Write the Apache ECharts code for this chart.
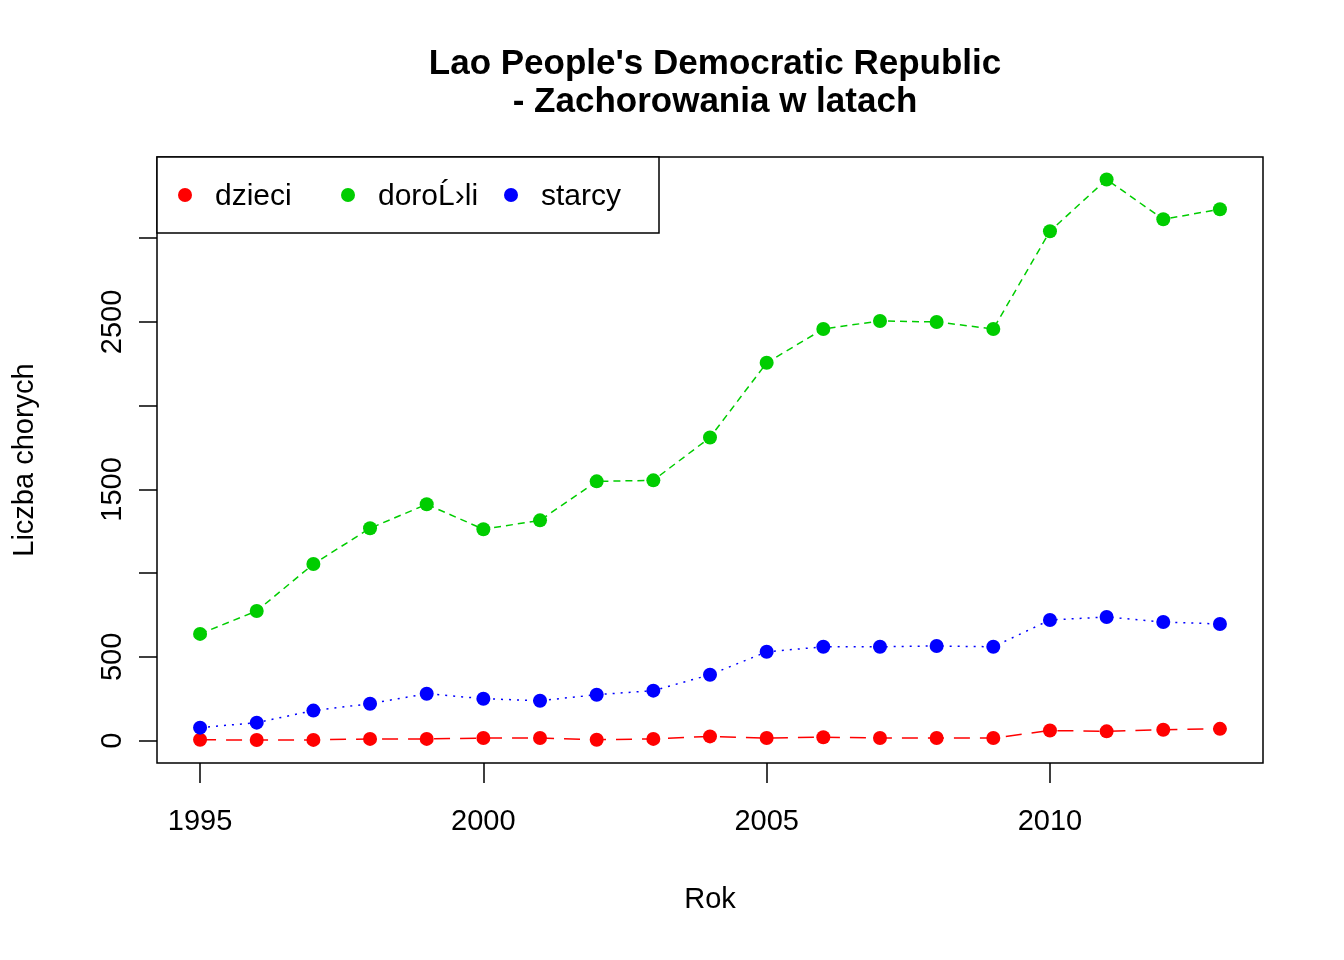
<!DOCTYPE html>
<html><head><meta charset="utf-8">
<script src="https://cdn.jsdelivr.net/npm/echarts@6/dist/echarts.min.js"></script>
<style>html,body{margin:0;background:#fff}#c{width:1344px;height:960px}</style>
</head><body><div id="c"></div>
<script>
var years = [1995,1996,1997,1998,1999,2000,2001,2002,2003,2004,2005,2006,2007,2008,2009,2010,2011,2012,2013];
var dzieci = [5,3,4,10,10,15,15,5,10,25,15,20,15,15,15,60,55,65,70];
var dorosli = [637,774,1054,1268,1411,1262,1315,1548,1554,1810,2256,2458,2506,2500,2458,3042,3351,3113,3173];
var starcy = [77,107,179,220,280,250,238,274,298,393,530,560,560,565,560,720,738,708,696];
var names = ['dzieci', 'doroĹ›li', 'starcy'];
var colors = ['#ff0000', '#00cd00', '#0000ff'];
var xTicks = [1995,2000,2005,2010];
var yTicks = [0,500,1000,1500,2000,2500,3000];
var yLabels = [0,500,1500,2500];

var font = 'Liberation Sans, Arial, sans-serif';
var chart = echarts.init(document.getElementById('c'));
function mk(i, vals, type) {
  return {
    name: names[i], type: 'line', data: years.map(function (y, k) { return [y, vals[k]]; }),
    symbol: 'circle', symbolSize: 14, itemStyle: { color: colors[i] },
    lineStyle: { color: colors[i], width: 1.5, type: type }, animation: false
  };
}
var legendG = [{ type: 'rect', shape: { x: 157, y: 157, width: 502, height: 76 },
  style: { fill: '#fff', stroke: '#000', lineWidth: 1.5 } }];
[185, 348, 511].forEach(function (x, i) {
  legendG.push({ type: 'circle', shape: { cx: x, cy: 195, r: 7 }, style: { fill: colors[i] } });
  legendG.push({ type: 'text', x: x + 30, y: 197, style: { text: names[i], font: '30px ' + font, fill: '#000', textVerticalAlign: 'middle' } });
});
chart.setOption({
  backgroundColor: '#fff',
  title: { text: "Lao People's Democratic Republic\n- Zachorowania w latach", left: 710, textAlign: 'center', top: 40,
    textStyle: { fontFamily: font, fontSize: 35, fontWeight: 'bold', color: '#000', lineHeight: 38 } },
  grid: { left: 157, right: 81, top: 157, bottom: 197, show: true, borderColor: '#000', borderWidth: 1.5 },
  xAxis: { type: 'value', min: 1994.24, max: 2013.76, name: 'Rok', nameLocation: 'middle', nameGap: 122,
    nameTextStyle: { fontFamily: font, fontSize: 29, color: '#000' },
    splitLine: { show: false }, axisLine: { show: false, onZero: false },
    axisTick: { show: true, length: 20, customValues: xTicks, lineStyle: { color: '#000', width: 1.5 } },
    axisLabel: { customValues: xTicks, margin: 44, fontFamily: font, fontSize: 29, color: '#000',
      formatter: function (v) { return String(v); } } },
  yAxis: { type: 'value', min: -134, max: 3485, name: 'Liczba chorych', nameLocation: 'middle', nameGap: 118,
    nameTextStyle: { fontFamily: font, fontSize: 29, color: '#000' },
    splitLine: { show: false }, axisLine: { show: false, onZero: false },
    axisTick: { show: true, length: 18, customValues: yTicks, lineStyle: { color: '#000', width: 1.5 } },
    axisLabel: { customValues: yLabels, rotate: 90, margin: 30, fontFamily: font, fontSize: 29, color: '#000',
      formatter: function (v) { return String(v); } } },
  graphic: legendG,
  series: [mk(0, dzieci, [16, 10]), mk(1, dorosli, [7, 5]), mk(2, starcy, [2, 6])]
});
</script></body></html>
